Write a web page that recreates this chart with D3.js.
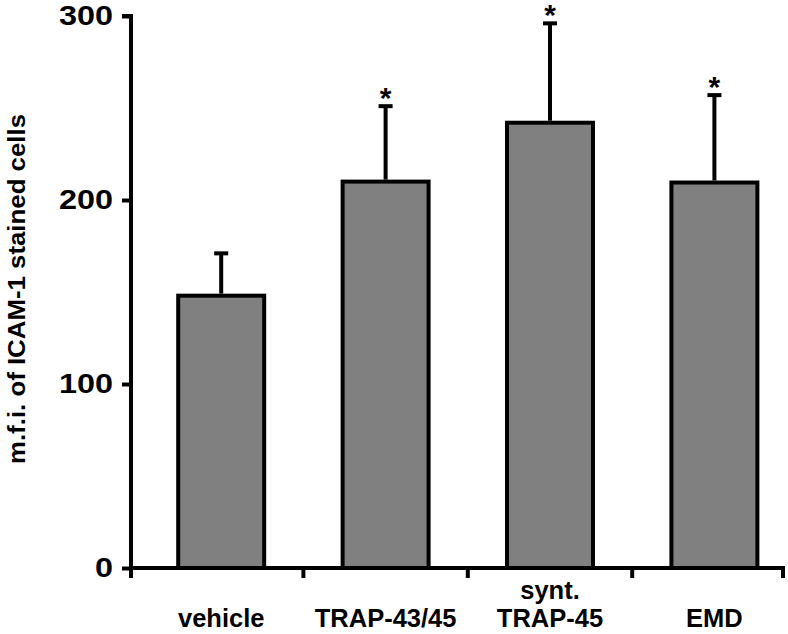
<!DOCTYPE html>
<html>
<head>
<meta charset="utf-8">
<script src="https://cdn.jsdelivr.net/npm/d3@7"></script>
<style>
  html, body { margin: 0; padding: 0; background: #fff; }
  svg { display: block; font-family: "Liberation Sans", Arial, Helvetica, sans-serif; }
</style>
</head>
<body>
<svg id="chart" width="788" height="634"></svg>
<script>
// ---- data ----
const categories = ["vehicle", "TRAP-43/45", "synt.\nTRAP-45", "EMD"];
const meanValues = [148, 210, 242, 209.5];
const errorValues = [23, 41, 54, 47.5];
const significant = [false, true, true, true];
const yTickValues = [0, 100, 200, 300];
const yTitle = "m.f.i. of ICAM-1 stained cells";

// ---- layout ----
const svg = d3.select("#chart");
const axisX = 131, axisY = 568, axisTop = 14, axisRight = 785;

const y = d3.scaleLinear().domain([0, 300]).range([568, 16]);
const x = d3.scaleBand()
  .domain(categories)
  .range([139, 796.6])
  .paddingInner(0.477)
  .paddingOuter(0.2385);

const data = categories.map((c, i) => ({ cat: c, mean: meanValues[i], err: errorValues[i], sig: significant[i] }));

// bars
svg.append("g").selectAll("rect").data(data).join("rect")
  .attr("x", d => x(d.cat))
  .attr("y", d => y(d.mean))
  .attr("width", x.bandwidth())
  .attr("height", d => y(0) - y(d.mean))
  .attr("fill", "#808080")
  .attr("stroke", "#000")
  .attr("stroke-width", 4);

// error bars (upper only)
const eb = svg.append("g").attr("stroke", "#000").attr("stroke-width", 4);
eb.selectAll("line.v").data(data).join("line").attr("class", "v")
  .attr("x1", d => x(d.cat) + x.bandwidth() / 2)
  .attr("x2", d => x(d.cat) + x.bandwidth() / 2)
  .attr("y1", d => y(d.mean) - 2)
  .attr("y2", d => y(d.mean + d.err));
eb.selectAll("line.c").data(data).join("line").attr("class", "c")
  .attr("x1", d => x(d.cat) + x.bandwidth() / 2 - 7)
  .attr("x2", d => x(d.cat) + x.bandwidth() / 2 + 7)
  .attr("y1", d => y(d.mean + d.err))
  .attr("y2", d => y(d.mean + d.err));

// asterisks
svg.append("g").selectAll("text").data(data.filter(d => d.sig)).join("text")
  .attr("x", d => x(d.cat) + x.bandwidth() / 2)
  .attr("y", d => y(d.mean + d.err) + 2)
  .attr("text-anchor", "middle")
  .attr("font-size", 30)
  .attr("font-weight", "bold")
  .text("*");

// y axis
const yAxis = d3.axisLeft(y).tickValues(yTickValues).tickSize(9).tickSizeOuter(0).tickPadding(6);
const gy = svg.append("g").attr("transform", `translate(${axisX},0)`).call(yAxis);
gy.select(".domain").remove();
gy.selectAll(".tick line").attr("stroke", "#000").attr("stroke-width", 4);
gy.selectAll(".tick text")
  .attr("font-size", 27)
  .attr("font-weight", "bold")
  .attr("fill", "#000")
  .attr("font-family", "Liberation Sans, Arial, sans-serif")
  .attr("transform", "scale(1.2,1)");
svg.append("line")
  .attr("x1", axisX).attr("x2", axisX)
  .attr("y1", axisTop).attr("y2", axisY + 10)
  .attr("stroke", "#000").attr("stroke-width", 4);
svg.append("line")
  .attr("x1", axisX - 9).attr("x2", axisX + 2)
  .attr("y1", y(300)).attr("y2", y(300))
  .attr("stroke", "#000").attr("stroke-width", 4);

// x axis line
svg.append("line")
  .attr("x1", axisX - 2).attr("x2", axisRight)
  .attr("y1", axisY).attr("y2", axisY)
  .attr("stroke", "#000").attr("stroke-width", 4);
// x ticks at band boundaries and axis end
const boundaries = categories.slice(0, -1).map(c => x(c) + x.bandwidth() + x.step() * x.paddingInner() / 2);
boundaries.push(axisRight - 2);
svg.append("g").selectAll("line").data(boundaries).join("line")
  .attr("x1", d => d).attr("x2", d => d)
  .attr("y1", axisY).attr("y2", axisY + 10)
  .attr("stroke", "#000").attr("stroke-width", 4);

// x labels
const xl = svg.append("g").selectAll("text").data(categories).join("text")
  .attr("text-anchor", "middle")
  .attr("font-size", 25.5)
  .attr("font-weight", "bold")
  .attr("fill", "#000");
xl.each(function(c) {
  const lines = c.split("\n");
  const t = d3.select(this);
  const cx = x(c) + x.bandwidth() / 2;
  lines.forEach((ln, i) => {
    t.append("tspan")
      .attr("x", cx)
      .attr("y", 627 - (lines.length - 1 - i) * 28)
      .text(ln);
  });
});

// y title
svg.append("text")
  .attr("transform", "translate(25,289) rotate(-90)")
  .attr("text-anchor", "middle")
  .attr("font-size", 24)
  .attr("font-weight", "bold")
  .attr("textLength", 350)
  .attr("lengthAdjust", "spacingAndGlyphs")
  .text(yTitle);
</script>
</body>
</html>
